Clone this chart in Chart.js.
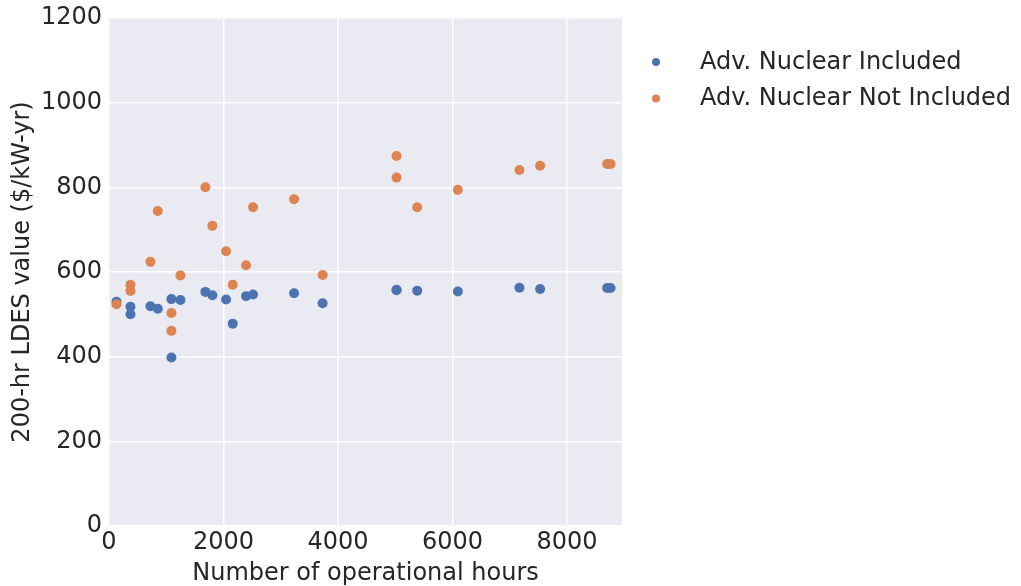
<!DOCTYPE html>
<html>
<head>
<meta charset="utf-8">
<script src="https://cdn.jsdelivr.net/npm/chart.js@4/dist/chart.umd.min.js"></script>
<style>
  html, body { margin: 0; padding: 0; background: #ffffff; }
  #wrap { width: 1021px; height: 586px; position: relative; }
</style>
</head>
<body>
<div id="wrap"><canvas id="c"></canvas></div>
<script>
// Operational hours of each scenario and the resulting 200-hr LDES value
const hours = [131, 375, 375, 724, 852, 1090, 1090, 1248, 1684, 1806, 2045, 2161,
               2394, 2516, 3232, 3731, 5022, 5022, 5383, 6093, 7169, 7530, 8700, 8760];
const nuclearIncluded = [530, 518, 500, 519, 513, 536, 398, 534, 553, 545, 535, 478,
                         543, 547, 550, 526, 558, 557, 556, 554, 563, 560, 562, 562];
const nuclearNotIncluded = [524, 570, 555, 624, 744, 503, 461, 592, 800, 709, 649, 570,
                            616, 753, 772, 593, 874, 823, 753, 794, 841, 851, 855, 855];

const seriesLabels = ['Adv. Nuclear Included', 'Adv. Nuclear Not Included'];
const seriesColors = ['#4C72B0', '#DD8452'];

const xTitle = 'Number of operational hours';
const yTitle = '200-hr LDES value ($/kW-yr)';
const xLimits = [0, 8960];
const yLimits = [0, 1200];
const xTickValues = [0, 2000, 4000, 6000, 8000];
const yTickValues = [0, 200, 400, 600, 800, 1000, 1200];

const toPoints = (xs, ys) => xs.map((x, i) => ({ x: x, y: ys[i] }));

const FONT = 'DejaVu Sans';
const INK = '#262626';

// grey panel behind the plotting area
const panelBackground = {
  id: 'panelBackground',
  beforeDraw(chart) {
    const { ctx, chartArea: a } = chart;
    ctx.save();
    ctx.fillStyle = '#EAEAF2';
    ctx.fillRect(a.left, a.top, a.right - a.left, a.bottom - a.top);
    ctx.restore();
  }
};

// legend placed to the right of the plotting area
const sideLegend = {
  id: 'sideLegend',
  afterDraw(chart) {
    const { ctx } = chart;
    ctx.save();
    ctx.font = '24px "' + FONT + '"';
    ctx.textBaseline = 'middle';
    ctx.textAlign = 'left';
    chart.data.datasets.forEach((ds, i) => {
      ctx.fillStyle = ds.backgroundColor;
      ctx.beginPath();
      ctx.arc(656, 62 + i * 36.5, 4, 0, Math.PI * 2);
      ctx.fill();
      ctx.fillStyle = INK;
      ctx.fillText(ds.label, 700, 62.5 + i * 36);
    });
    ctx.restore();
  }
};

const fixedTicks = values => scale => {
  scale.ticks = values.map(v => ({ value: v }));
};

new Chart(document.getElementById('c'), {
  type: 'scatter',
  data: {
    datasets: [
      {
        label: seriesLabels[0],
        data: toPoints(hours, nuclearIncluded),
        backgroundColor: seriesColors[0],
        borderWidth: 0,
        pointRadius: 5,
        order: 1
      },
      {
        label: seriesLabels[1],
        data: toPoints(hours, nuclearNotIncluded),
        backgroundColor: seriesColors[1],
        borderWidth: 0,
        pointRadius: 5,
        order: 0
      }
    ]
  },
  options: {
    responsive: true,
    maintainAspectRatio: false,
    animation: false,
    events: [],
    layout: { autoPadding: false, padding: { top: 18, right: 399, left: 0, bottom: 0 } },
    plugins: {
      legend: { display: false },
      tooltip: { enabled: false }
    },
    scales: {
      x: {
        type: 'linear',
        min: xLimits[0],
        max: xLimits[1],
        border: { display: false },
        grid: { color: '#ffffff', lineWidth: 1.5, drawTicks: false },
        afterBuildTicks: fixedTicks(xTickValues),
        ticks: {
          padding: 2,
          color: INK,
          font: { family: FONT, size: 24 },
          callback: v => String(v)
        },
        title: {
          display: true,
          text: xTitle,
          color: INK,
          padding: { top: 0, bottom: -2 },
          font: { family: FONT, size: 24 }
        },
        afterFit(scale) { scale.height = 60; }
      },
      y: {
        type: 'linear',
        min: yLimits[0],
        max: yLimits[1],
        border: { display: false },
        grid: { color: '#ffffff', lineWidth: 1.5, drawTicks: false },
        afterBuildTicks: fixedTicks(yTickValues),
        ticks: {
          padding: 7,
          color: INK,
          font: { family: FONT, size: 24, lineHeight: 0.8 },
          callback: v => String(v)
        },
        title: {
          display: true,
          text: yTitle,
          color: INK,
          padding: { top: 8, bottom: 0 },
          font: { family: FONT, size: 24 }
        },
        afterFit(scale) { scale.width = 109; }
      }
    }
  },
  plugins: [panelBackground, sideLegend]
});
</script>
</body>
</html>
